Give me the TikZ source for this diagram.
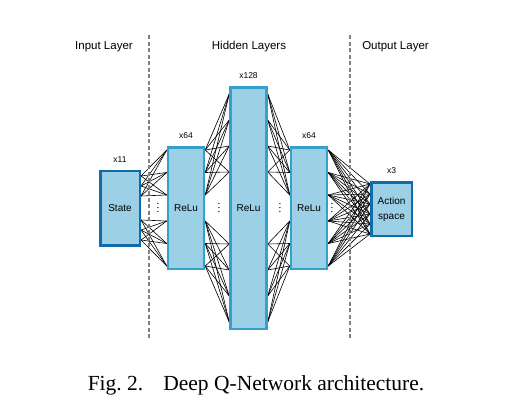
\documentclass[tikz,border=0pt]{standalone}
\usepackage{fontspec}
\setmainfont{Liberation Serif}
\setsansfont{Liberation Sans}
\usetikzlibrary{positioning,backgrounds}
\definecolor{boxfill}{RGB}{155,208,230}
\definecolor{reluline}{RGB}{54,160,204}
\definecolor{ioline}{RGB}{16,107,168}
\definecolor{sepgray}{RGB}{128,128,128}
\begin{document}
\begin{tikzpicture}[x=1pt, y=-1pt,
   layerbox/.style={draw=reluline, fill=boxfill, line width=2.5pt, minimum width=36pt,
      minimum height=121.5pt, inner sep=0pt, align=center, font=\sffamily\fontsize{10}{15}\selectfont},
   iobox/.style={layerbox, draw=ioline, minimum width=39.5pt},
   size/.style={inner sep=0pt, font=\sffamily\fontsize{8.5}{10}\selectfont},
   head/.style={font=\sffamily\fontsize{11.5}{14}\selectfont},
   gap/.style={inner sep=0pt, font=\fontsize{11}{12}\selectfont},
   wire/.style={line width=0.6pt},
   sep/.style={draw=sepgray, line width=1.5pt, dash pattern=on 4pt off 2.5pt}]
   \useasboundingbox (0,0) rectangle (528,413);
   % column titles and separators
   \node[head] (inhead) at (104,47) {Input Layer};
   \node[head] (hidhead) at (249,47) {Hidden Layers};
   \node[head] (outhead) at (395.5,47) {Output Layer};
   \draw[sep] (149,35) -- (149,340);
   \draw[sep] (350,35) -- (350,340);
   % layers
   \node[iobox, minimum height=74.5pt] (state) at (120,208) {State};
   \node[layerbox] (reluA) at (186,208) {ReLu};
   \node[layerbox, minimum height=241.5pt] (reluB) at (248.5,208) {ReLu};
   \node[layerbox] (reluC) at (309,208) {ReLu};
   \node[iobox, minimum width=40.5pt, minimum height=53.5pt] (action) at (391.5,209) {Action\\space};
   \node[size, above=7pt of state] (nstate) {x11};
   \node[size, above=7pt of reluA] (nreluA) {x64};
   \node[size, above=7pt of reluB] (nreluB) {x128};
   \node[size, above=7pt of reluC] (nreluC) {x64};
   \node[size, above=7pt of action] (naction) {x3};
   \node[gap] (gapA) at (158,205) {$\vdots$};
   \node[gap] (gapB) at (219,205) {$\vdots$};
   \node[gap] (gapC) at (280,205) {$\vdots$};
   \node[gap] (gapD) at (332,205) {$\vdots$};
   % weights
   \begin{scope}[on background layer]
   \foreach \s in {12,22,32} \foreach \t in {13,35.5,58} {
      \draw[wire] ([yshift=\s pt]state.east) -- ([yshift=\t pt]reluA.west);
      \draw[wire] ([yshift=-\s pt]state.east) -- ([yshift=-\t pt]reluA.west);
   }
   \foreach \s in {13,35.5,58} \foreach \t in {36,62,88,114} {
      \draw[wire] ([yshift=\s pt]reluA.east) -- ([yshift=\t pt]reluB.west);
      \draw[wire] ([yshift=-\s pt]reluA.east) -- ([yshift=-\t pt]reluB.west);
      \draw[wire] ([yshift=\t pt]reluB.east) -- ([yshift=\s pt]reluC.west);
      \draw[wire] ([yshift=-\t pt]reluB.east) -- ([yshift=-\s pt]reluC.west);
   }
   \foreach \s in {-58,-35.5,-13,13,35.5,58} \foreach \t in {-25,-15,-5,5,15,25}
      \draw[wire] ([yshift=\s pt]reluC.east) -- ([yshift=\t pt]action.west);
   \end{scope}
   % caption
   \node[anchor=base, font=\fontsize{21.5}{24}\selectfont] (caption) at (256,390)
      {Fig.~2.\hspace{0.6em} Deep Q-Network architecture.};
\end{tikzpicture}
\end{document}
